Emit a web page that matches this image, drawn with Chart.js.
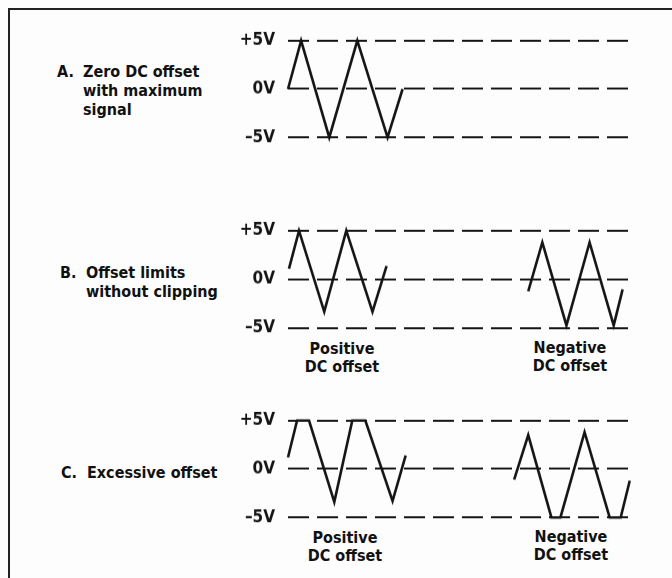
<!DOCTYPE html>
<html>
<head>
<meta charset="utf-8">
<script src="https://cdn.jsdelivr.net/npm/chart.js@4.4.0/dist/chart.umd.min.js"></script>
<style>
  html, body { margin: 0; padding: 0; background: #fdfdfd; }
  body {
    width: 672px; height: 578px; position: relative; overflow: hidden;
    font-family: 'Liberation Sans Narrow', 'DejaVu Sans Condensed', sans-serif;
    font-weight: bold; color: #111;
  }
  .frame {
    position: absolute; left: 8px; top: 8px; width: 700px; height: 600px;
    border-top: 2px solid #222; border-left: 2px solid #222;
  }
  .panel { position: absolute; left: 200px; width: 450px; }
  .lbl { position: absolute; font-size: 16px; line-height: 19px; white-space: nowrap; }
  .lbl .k { position: absolute; left: -26px; top: 0; }
  .cap { position: absolute; width: 120px; font-size: 16px; line-height: 18px; text-align: center; }
</style>
</head>
<body>
<div class="frame"></div>

<div class="lbl" style="left:83px; top:62px;"><span class="k">A.</span>Zero DC offset<br>with maximum<br>signal</div>
<div class="lbl" style="left:86px; top:263px;"><span class="k">B.</span>Offset limits<br>without clipping</div>
<div class="lbl" style="left:87px; top:463px;"><span class="k">C.</span>Excessive offset</div>

<div class="cap" style="left:282px; top:340px;">Positive<br>DC offset</div>
<div class="cap" style="left:510px; top:339px;">Negative<br>DC offset</div>
<div class="cap" style="left:285px; top:529px;">Positive<br>DC offset</div>
<div class="cap" style="left:511px; top:528px;">Negative<br>DC offset</div>

<canvas id="panelA" class="panel"></canvas>
<canvas id="panelB" class="panel"></canvas>
<canvas id="panelC" class="panel"></canvas>

<script>
const voltTicks = [-5, 0, 5];
const voltLabels = ['–5V', '0V', '+5V'];

// A. zero offset, full +/-5V swing
const aTime = [0, 0.94, 2.96, 4.97, 7.14, 8.22];
const aVolts = [0, 5, -5, 5, -5, 0];

// B. offset limits without clipping
const bPosTime = [0.07, 0.79, 2.6, 4.18, 6.06, 7.07];
const bPosVolts = [1.1, 5, -3.3, 5, -3.3, 1.4];
const bNegTime = [17.23, 18.24, 19.97, 21.63, 23.36, 24.0];
const bNegVolts = [-1.2, 3.8, -4.7, 3.8, -4.7, -1.0];

// C. excessive offset (flat tops / bottoms = clipping)
const cPosTime = [0, 0.65, 1.51, 3.32, 4.61, 5.55, 7.5, 8.44];
const cPosVolts = [1.2, 5, 5, -3.4, 5, 5, -3.3, 1.4];
const cNegTime = [16.22, 17.23, 18.89, 19.54, 21.27, 23.07, 23.86, 24.51];
const cNegVolts = [-1.1, 3.5, -5, -5, 3.8, -5, -5, -1.2];

const INK = '#151515';
const PAD = 20;          // top/bottom padding inside each canvas
const V_RANGE = 6.5;     // y axis runs -6.5 .. +6.5

function toPoints(xs, ys) {
    return xs.map((x, i) => ({ x: x, y: ys[i] }));
}

// plus5Y / minus5Y: page y of the +5V and -5V reference lines
function makePanel(id, waves, plus5Y, minus5Y) {
    const pxPerVolt = (minus5Y - plus5Y) / 10;
    const areaH = pxPerVolt * V_RANGE * 2;
    const areaTop = plus5Y - pxPerVolt * (V_RANGE - 5);
    const canvas = document.getElementById(id);
    canvas.style.top = (areaTop - PAD) + 'px';
    canvas.style.height = (areaH + PAD * 2) + 'px';
    canvas.width = 450;
    canvas.height = Math.round(areaH + PAD * 2);

    return new Chart(canvas, {
        type: 'line',
        data: {
            datasets: waves.map(w => ({
                data: toPoints(w[0], w[1]),
                borderColor: INK,
                borderWidth: 2.6,
                pointRadius: 0,
                tension: 0,
                clip: false
            }))
        },
        options: {
            responsive: false,
            animation: false,
            events: [],
            layout: { padding: { left: 0, right: 19, top: PAD, bottom: PAD } },
            plugins: { legend: { display: false }, tooltip: { enabled: false } },
            scales: {
                x: { type: 'linear', min: 0, max: 24.6, display: false },
                y: {
                    type: 'linear',
                    min: -V_RANGE,
                    max: V_RANGE,
                    afterBuildTicks: scale => {
                        scale.ticks = voltTicks.map(v => ({ value: v }));
                    },
                    afterFit: scale => { scale.width = 88; },
                    grid: { color: INK, lineWidth: 2, drawTicks: false },
                    border: { display: false, dash: [21, 8] },
                    ticks: {
                        color: INK,
                        padding: 13,
                        font: { family: "'Liberation Sans Narrow', 'DejaVu Sans Condensed', sans-serif", size: 17, weight: 'bold' },
                        callback: v => voltLabels[voltTicks.indexOf(v)]
                    }
                }
            }
        }
    });
}

makePanel('panelA', [[aTime, aVolts]], 38, 140);
makePanel('panelB', [[bPosTime, bPosVolts], [bNegTime, bNegVolts]], 228, 331);
makePanel('panelC', [[cPosTime, cPosVolts], [cNegTime, cNegVolts]], 418, 520);
</script>
</body>
</html>
